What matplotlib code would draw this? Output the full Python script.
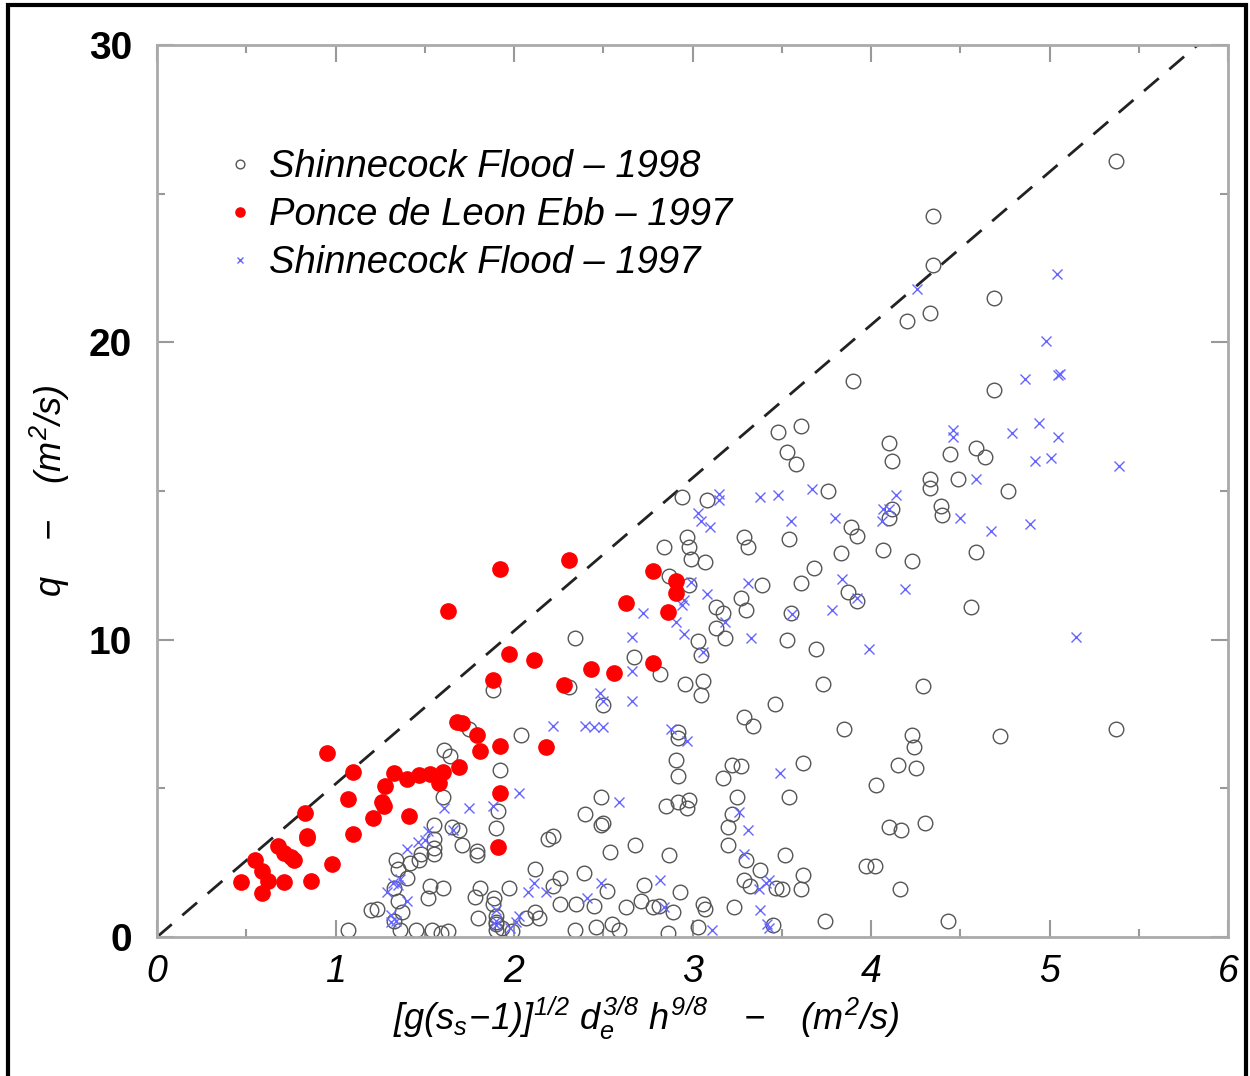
import matplotlib
matplotlib.use("Agg")
import matplotlib.pyplot as plt
from matplotlib.patches import Rectangle
from matplotlib.ticker import MultipleLocator

plt.rcParams['font.family'] = ['Liberation Sans', 'DejaVu Sans']
plt.rcParams['mathtext.fontset'] = 'custom'
plt.rcParams['mathtext.it'] = 'Liberation Sans:italic'
plt.rcParams['mathtext.rm'] = 'Liberation Sans:italic'

# Shinnecock Flood - 1998 (open circles)
flood98_x = [5.37, 4.35, 4.35, 4.33, 4.20, 4.69, 3.90, 4.69, 3.48, 3.61, 3.53, 3.58,
             4.10, 4.12, 4.44, 4.33, 4.33, 4.59, 4.64, 4.39, 4.40, 4.77, 4.49, 3.76,
             2.94, 3.08, 2.97, 2.98, 3.29, 3.31, 3.54, 3.89, 3.92, 4.12, 4.10, 4.07,
             4.23, 4.59, 3.83, 3.68, 3.61, 2.84, 2.99, 3.07, 2.87, 2.98, 3.13, 3.17,
             3.27, 3.30, 3.39, 3.55, 3.87, 3.92, 4.56, 3.13, 3.18, 3.03, 3.05, 3.69,
             3.53, 2.34, 2.67, 2.82, 2.96, 3.06, 3.05, 2.31, 1.88, 2.04, 1.75, 1.61,
             1.64, 2.50, 3.29, 3.34, 3.46, 3.85, 4.72, 4.23, 4.24, 4.25, 4.15, 2.92,
             2.92, 3.62, 3.22, 3.27, 3.17, 2.91, 2.92, 3.54, 3.73, 4.29, 4.03, 4.10,
             4.17, 4.30, 4.02, 3.97, 4.16, 4.43, 3.74, 3.52, 3.30, 3.29, 3.47, 3.62,
             3.61, 3.38, 3.22, 3.20, 3.20, 3.25, 2.98, 2.92, 2.97, 2.85, 2.87, 2.68,
             2.54, 2.49, 2.50, 2.49, 2.40, 2.22, 2.19, 1.90, 1.91, 1.92, 1.60, 1.65,
             1.69, 1.55, 1.55, 1.55, 1.55, 1.48, 1.47, 1.42, 1.34, 1.35, 1.40, 1.33,
             1.35, 1.37, 1.33, 1.36, 1.45, 1.23, 1.20, 1.07, 1.54, 1.59, 1.53, 1.52,
             1.60, 1.81, 1.78, 1.80, 1.88, 1.90, 1.90, 1.90, 1.97, 1.99, 2.07, 2.12,
             2.14, 2.12, 2.22, 2.26, 2.34, 2.35, 2.39, 2.46, 2.52, 2.55, 2.59, 2.63,
             2.71, 2.73, 2.86, 2.89, 2.93, 3.03, 3.07, 3.06, 3.23, 3.32, 3.50, 1.71,
             1.79, 1.79, 2.26, 2.45, 2.78, 2.81, 1.63, 1.93, 3.45, 1.89, 1.90, 5.37]
flood98_y = [26.1, 24.25, 22.6, 21.0, 20.7, 21.5, 18.7, 18.4, 17.0, 17.2, 16.3, 15.9,
             16.6, 16.0, 16.25, 15.4, 15.1, 16.45, 16.15, 14.5, 14.2, 15.0, 15.4, 15.0,
             14.8, 14.7, 13.45, 13.1, 13.45, 13.1, 13.4, 13.8, 13.5, 14.4, 14.1, 13.0,
             12.65, 12.95, 12.9, 12.4, 11.9, 13.1, 12.7, 12.6, 12.15, 11.85, 11.1, 10.9,
             11.4, 11.0, 11.85, 10.9, 11.6, 11.3, 11.1, 10.4, 10.05, 9.95, 9.5, 9.7,
             10.0, 10.05, 9.4, 8.85, 8.5, 8.6, 8.15, 8.4, 8.3, 6.8, 7.0, 6.3,
             6.1, 7.8, 7.4, 7.1, 7.85, 7.0, 6.75, 6.8, 6.4, 5.7, 5.8, 6.9,
             6.7, 5.85, 5.8, 5.75, 5.35, 5.95, 5.4, 4.7, 8.5, 8.45, 5.1, 3.7,
             3.6, 3.85, 2.4, 2.4, 1.6, 0.55, 0.55, 2.75, 2.6, 1.9, 1.65, 2.1,
             1.6, 2.25, 4.15, 3.7, 3.1, 4.7, 4.6, 4.55, 4.35, 4.4, 2.75, 3.1,
             2.85, 4.7, 3.85, 3.75, 4.15, 3.4, 3.3, 3.65, 4.25, 5.6, 4.7, 3.7,
             3.6, 3.75, 3.3, 3.0, 2.8, 2.8, 2.6, 2.5, 2.6, 2.3, 2.0, 1.65,
             1.2, 0.85, 0.55, 0.25, 0.25, 0.95, 0.9, 0.25, 0.25, 0.15, 1.7, 1.3,
             1.65, 1.65, 1.35, 0.65, 1.1, 0.7, 0.45, 0.25, 1.65, 0.2, 0.65, 0.85,
             0.65, 2.3, 1.7, 1.1, 0.25, 1.1, 2.15, 0.35, 1.55, 0.45, 0.25, 1.0,
             1.2, 1.75, 0.15, 0.85, 1.5, 0.35, 0.95, 1.1, 1.0, 1.7, 1.6, 3.1,
             2.9, 2.75, 2.0, 1.05, 1.0, 1.05, 0.2, 0.3, 0.4, 1.3, 0.5, 7.0]

# Ponce de Leon Ebb - 1997 (filled red)
ponce_x = [0.47, 0.55, 0.59, 0.59, 0.62, 0.68, 0.71, 0.71, 0.75, 0.77, 0.84, 0.84,
           0.83, 0.86, 0.95, 0.98, 1.07, 1.10, 1.10, 1.21, 1.26, 1.27, 1.28, 1.33,
           1.40, 1.41, 1.47, 1.53, 1.58, 1.60, 1.63, 1.68, 1.71, 1.69, 1.79, 1.81,
           1.88, 1.92, 1.92, 1.92, 1.91, 1.97, 2.11, 2.18, 2.28, 2.31, 2.43, 2.56,
           2.63, 2.78, 2.78, 2.86, 2.91, 2.91]
ponce_y = [1.85, 2.59, 2.22, 1.48, 1.88, 3.06, 1.85, 2.83, 2.69, 2.59, 3.40, 3.33,
           4.17, 1.88, 6.19, 2.46, 4.64, 5.55, 3.46, 4.00, 4.54, 4.41, 5.08, 5.52,
           5.31, 4.07, 5.45, 5.48, 5.18, 5.55, 10.97, 7.23, 7.20, 5.72, 6.79, 6.26,
           8.64, 6.42, 12.38, 4.84, 3.03, 9.52, 9.32, 6.39, 8.48, 12.68, 9.01, 8.88,
           11.23, 9.22, 12.31, 10.93, 11.97, 11.57]

# Shinnecock Flood - 1997 (blue crosses)
flood97_x = [5.04, 4.26, 4.98, 5.05, 5.06, 4.86, 4.94, 4.79, 5.05, 4.46, 4.46, 4.92,
             5.01, 5.39, 4.59, 4.89, 4.67, 4.14, 4.07, 4.10, 4.06, 4.19, 3.99, 5.15,
             4.50, 3.92, 3.80, 3.67, 3.48, 3.38, 3.55, 3.15, 3.15, 3.10, 3.03, 3.05,
             3.84, 3.78, 3.56, 3.31, 3.08, 2.99, 2.92, 2.95, 2.94, 2.91, 2.95, 3.18,
             3.06, 3.33, 2.72, 2.66, 2.66, 2.66, 2.48, 2.50, 2.40, 2.45, 2.50, 2.22,
             2.88, 2.97, 2.59, 2.03, 1.88, 1.75, 1.61, 1.66, 1.52, 1.50, 1.46, 1.40,
             1.36, 1.35, 1.32, 1.29, 1.31, 1.40, 1.31, 1.34, 1.90, 1.90, 1.90, 2.03,
             2.01, 1.98, 2.11, 2.08, 2.18, 2.41, 2.49, 2.82, 2.84, 3.11, 3.29, 3.31,
             3.26, 3.37, 3.41, 3.43, 3.38, 3.42, 3.43, 3.49]
flood97_y = [22.3, 21.8, 20.05, 18.9, 18.95, 18.75, 17.3, 16.95, 16.8, 17.05, 16.8, 16.0,
             16.1, 15.85, 15.4, 13.9, 13.65, 14.85, 14.4, 14.4, 14.0, 11.7, 9.7, 10.1,
             14.1, 11.4, 14.1, 15.05, 14.85, 14.8, 14.0, 14.9, 14.7, 13.8, 14.25, 14.0,
             12.05, 11.0, 10.85, 11.9, 11.55, 11.95, 11.85, 11.35, 11.15, 10.6, 10.2, 10.6,
             9.6, 10.05, 10.9, 10.1, 8.95, 7.95, 8.2, 7.95, 7.1, 7.05, 7.05, 7.1,
             7.0, 6.6, 4.55, 4.85, 4.4, 4.35, 4.35, 3.6, 3.55, 3.25, 3.2, 2.95,
             1.95, 1.75, 1.8, 1.5, 0.75, 1.2, 0.5, 0.55, 0.9, 0.55, 0.4, 0.7,
             0.5, 0.3, 1.8, 1.5, 1.5, 1.3, 1.8, 1.9, 1.0, 0.25, 2.8, 3.6,
             4.2, 1.6, 1.8, 1.9, 0.9, 0.45, 0.3, 5.5]

# reference line
ref_x = [0, 5.83]
ref_y = [0, 30]

fig = plt.figure(figsize=(12.5, 10.76), dpi=100)
ax = fig.add_axes([0.1256, 0.1292, 0.8568, 0.829])

ax.plot(ref_x, ref_y, color='#222222', lw=2, dashes=(7, 5), zorder=1)
ax.plot(flood98_x, flood98_y, 'o', mfc='none', mec='#555555', mew=1.0, ms=10.5,
        label='Shinnecock Flood \u2013 1998', zorder=2)
ax.plot(ponce_x, ponce_y, 'o', color='#ff0000', ms=11,
        label='Ponce de Leon Ebb \u2013 1997', zorder=3)
ax.plot(flood97_x, flood97_y, 'x', color='#6666ff', mew=1.0, ms=7,
        label='Shinnecock Flood \u2013 1997', zorder=2)

ax.set_xlim(0, 6)
ax.set_ylim(0, 30)
ax.xaxis.set_major_locator(MultipleLocator(1))
ax.xaxis.set_minor_locator(MultipleLocator(0.5))
ax.yaxis.set_major_locator(MultipleLocator(10))
ax.yaxis.set_minor_locator(MultipleLocator(5))
ax.tick_params(which='both', direction='in', top=True, right=True, color='#999999', width=1.5)
ax.tick_params(which='major', length=12)
ax.tick_params(which='minor', length=6)
ax.tick_params(axis='y', pad=18)
ax.tick_params(axis='x', pad=12)
for s in ax.spines.values():
    s.set_color('#aaaaaa')
    s.set_linewidth(2)

for t in ax.get_xticklabels():
    t.set_fontsize(27)
    t.set_fontstyle('italic')
for t in ax.get_yticklabels():
    t.set_fontsize(28)
    t.set_fontweight('heavy')

ax.set_xlabel(r'$[g(s_s\!-\!1)]^{1/2}\ d_e^{3/8}\ h^{9/8}\quad -\quad (m^2/s)$', fontsize=26, labelpad=6)
ax.xaxis.set_label_coords(0.457, -0.065)
ax.set_ylabel(r'$q\quad -\quad (m^2/s)$', fontsize=26, labelpad=12)

leg = ax.legend(loc='upper left', bbox_to_anchor=(0.035, 0.922), frameon=False,
                fontsize=27.5, markerscale=0.6, handlelength=0.6, handletextpad=0.45,
                labelspacing=0.32)
for t in leg.get_texts():
    t.set_fontstyle('italic')

fig.patches.append(Rectangle((0.0065, -0.01), 0.99, 1.005, transform=fig.transFigure,
                             fill=False, ec='black', lw=3))

fig.savefig('out.png', dpi=100)
